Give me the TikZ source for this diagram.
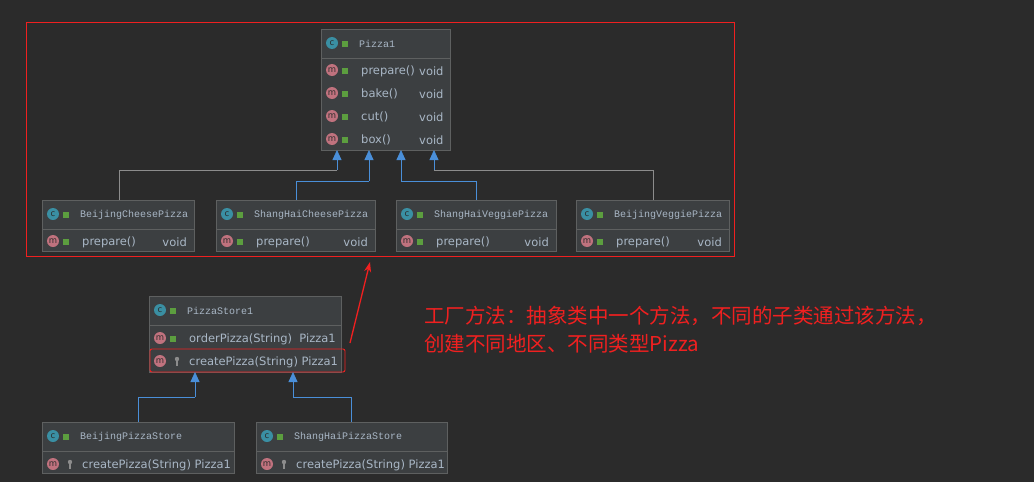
\documentclass[tikz,border=0pt]{standalone}
\usepackage{fontspec}
\setmainfont{DejaVu Sans}
\newfontfamily\cjk{Noto Sans CJK SC}
\newfontfamily\monof{Liberation Mono}
\usetikzlibrary{arrows.meta}
\definecolor{bg}{HTML}{2B2B2B}
\definecolor{boxbg}{HTML}{3C3F41}
\definecolor{boxln}{HTML}{5E6060}
\definecolor{txt}{HTML}{A9B7C6}
\definecolor{blu}{HTML}{4A8FD9}
\definecolor{gry}{HTML}{8C8C8C}
\definecolor{teal}{HTML}{3A8FA3}
\definecolor{pink}{HTML}{C0727E}
\definecolor{lock}{HTML}{5C9E3F}
\definecolor{redc}{HTML}{F02020}
\tikzset{
 x=1pt,y=-1pt,
 cls/.style={draw=boxln,fill=boxbg,line width=0.8pt},
 hdr/.style={text=txt,font=\monof\fontsize{10}{10}\selectfont,anchor=west,inner sep=0},
 mth/.style={text=txt,font=\fontsize{11.5}{12}\selectfont,anchor=west,inner sep=0},
 ic/.style={circle,inner sep=0,minimum size=12pt,text=bg,font=\fontsize{8.5}{8}\selectfont},
 inh/.style={line width=0.8pt,-{Triangle[width=9pt,length=10pt,fill=blu]},blu},
 inhg/.style={line width=0.8pt,gry},
}
\newcommand{\ctitle}[3]{% x y name
 \node[ic,fill=teal] at (#1+11,#2+14) {c};
 \fill[lock] (#1+21,#2+12) rectangle (#1+27,#2+18);
 \node[hdr] at (#1+38,#2+15) {#3};}
\begin{document}
\begin{tikzpicture}
\fill[bg] (0,0) rectangle (1034,482);
\useasboundingbox (0,0) rectangle (1034,482);
% Pizza1
\draw[cls] (321,29) rectangle (450,150); \draw[boxln,line width=0.8pt] (321,58)--(450,58);
\coordinate (p1) at (337,150);\coordinate (p2) at (369,150);\coordinate (p3) at (401,150);\coordinate (p4) at (434,150);
\ctitle{321}{29}{Pizza1}
\foreach \y/\t in {70/prepare(),93/bake(),116/cut(),139/box()}{
 \node[ic,fill=pink] at (332,\y) {m}; \fill[lock] (342,\y-2) rectangle (348,\y+4);
 \node[mth] at (361,\y+1) {\t}; \node[mth] at (419,\y+1) {void};}
% subclasses
\foreach \x/\w/\n/\lab in {42/152/bc/BeijingCheesePizza,216/159/sc/ShangHaiCheesePizza,396/160/sv/ShangHaiVeggiePizza,576/153/bv/BeijingVeggiePizza}{
 \draw[cls] (\x,200) rectangle (\x+\w,251); \draw[boxln,line width=0.8pt] (\x,229)--(\x+\w,229);
 \coordinate (\n) at (\x+\w/2,200);
 \ctitle{\x}{200}{\lab}
 \node[ic,fill=pink] at (\x+11,241) {m}; \fill[lock] (\x+21,239) rectangle (\x+27,245);
 \node[mth] at (\x+40,242) {prepare()}; \node[mth,anchor=east] at (\x+\w-7,242) {void};}
\draw[inhg] (119,200) |- (337,170);
\draw[inh] (337,170)--(p1);
\draw[blu,line width=0.8pt] (296,200) |- (369,181); \draw[inh] (369,181)--(p2);
\draw[blu,line width=0.8pt] (476,200) |- (401,181); \draw[inh] (401,181)--(p3);
\draw[inhg] (653,200) |- (434,170); \draw[inh] (434,170)--(p4);
\draw[redc,line width=0.9pt] (26,22) rectangle (734,256);
% PizzaStore1
\draw[cls] (149,296) rectangle (341,372); \draw[boxln,line width=0.8pt] (149,325)--(341,325);
\ctitle{149}{296}{PizzaStore1}
\node[ic,fill=pink] at (160,338) {m}; \fill[lock] (170,336) rectangle (176,342);
\node[mth] at (189,339) {orderPizza(String)\ \ Pizza1};
\node[ic,fill=pink] at (160,361) {m}; \fill[gry] (177,359) circle (2.2pt); \draw[gry,line width=1.2pt] (177,360)--(177,366);
\node[mth] at (189,362) {createPizza(String) Pizza1};
\draw[redc,line width=0.9pt,rounded corners=2pt] (150,349) rectangle (345,372);
\coordinate (s1) at (195,372); \coordinate (s2) at (293,372);
\foreach \x/\w/\n/\lab in {42/192/bs/BeijingPizzaStore,256/191/ss/ShangHaiPizzaStore}{
 \draw[cls] (\x,422) rectangle (\x+\w,473); \draw[boxln,line width=0.8pt] (\x,451)--(\x+\w,451);
 \ctitle{\x}{422}{\lab}
 \node[ic,fill=pink] at (\x+11,464) {m}; \fill[gry] (\x+28,462) circle (2.2pt); \draw[gry,line width=1.2pt] (\x+28,463)--(\x+28,469);
 \node[mth] at (\x+40,465) {createPizza(String) Pizza1};}
\draw[blu,line width=0.8pt] (138,422) |- (195,397); \draw[inh] (195,397)--(s1);
\draw[blu,line width=0.8pt] (351,422) |- (293,397); \draw[inh] (293,397)--(s2);
% annotation
\coordinate (ra) at (350,343); \coordinate (rb) at (370,262);
\draw[redc,line width=1.3pt,-{Stealth[length=10pt,width=7pt]}] (ra)--(rb);
\node[text=redc,font=\cjk\fontsize{20.5}{21}\selectfont,anchor=west,inner sep=0] (n1) at (424,316) {工厂方法：抽象类中一个方法，不同的子类通过该方法，};
\node[text=redc,font=\cjk\fontsize{20.5}{21}\selectfont,anchor=west,inner sep=0] (n2) at (424,344) {创建不同地区、不同类型Pizza};
\end{tikzpicture}
\end{document}
